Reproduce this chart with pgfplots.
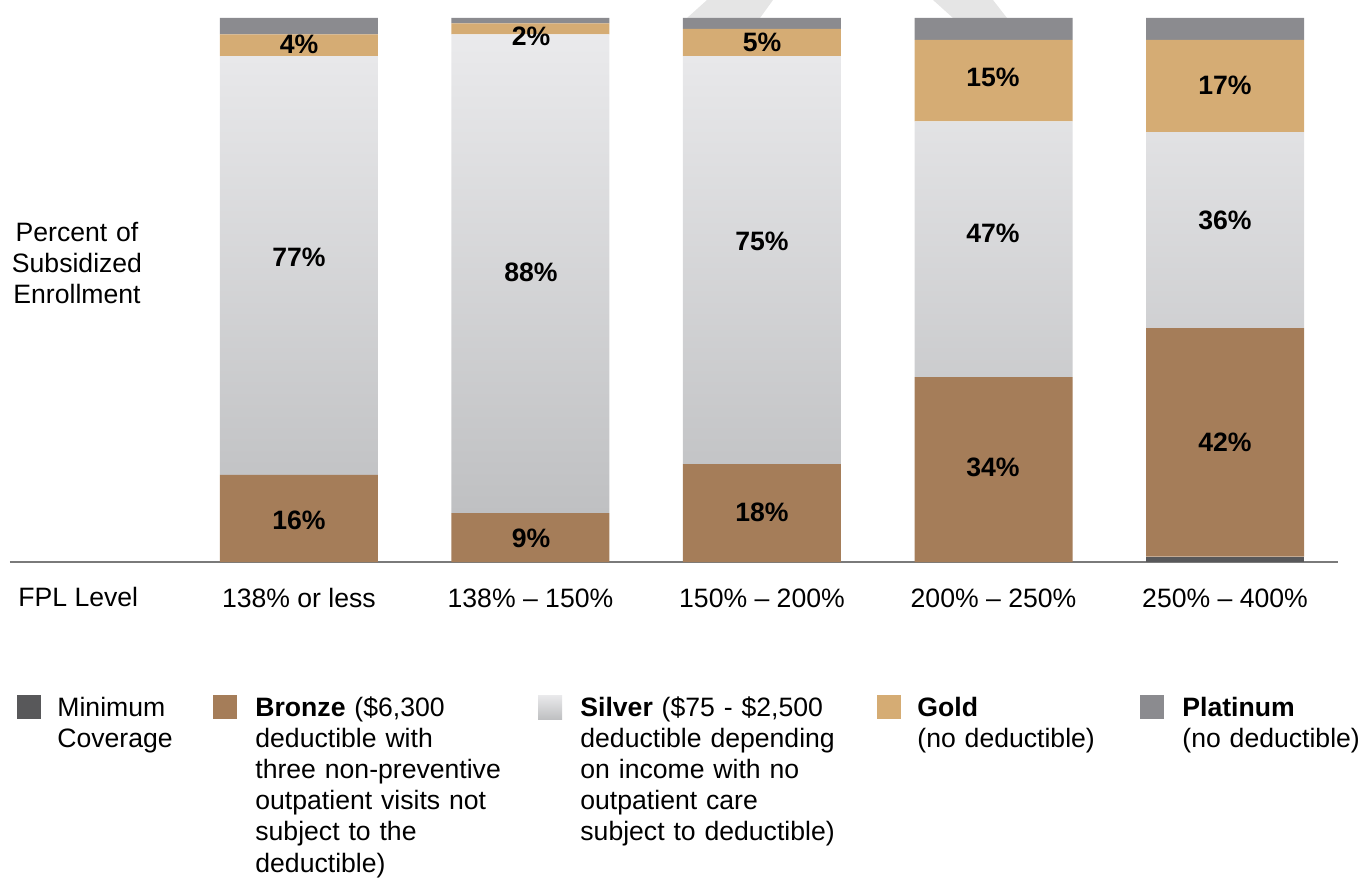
\documentclass[border=0pt]{standalone}
\usepackage{pgfplots}
\pgfplotsset{compat=1.18}
\usepackage{fontspec}
\setmainfont{Liberation Sans}
\definecolor{mincov}{HTML}{58585A}
\definecolor{bronze}{HTML}{A57D59}
\definecolor{silvertop}{HTML}{EAEAEC}
\definecolor{silverbot}{HTML}{BFC0C2}
\definecolor{gold}{HTML}{D5AC74}
\definecolor{platinum}{HTML}{8B8B8F}
\definecolor{axisgray}{HTML}{7A7A7A}
\newcommand{\chartfont}{\fontsize{13.3}{15.6}\selectfont}
\tikzset{
  barlab/.style={font=\chartfont\bfseries, inner sep=0pt, text=black},
  legtext/.style={font=\chartfont, inner sep=0pt, anchor=base west, text width=240pt, align=left},
}
\begin{document}
\begin{tikzpicture}[x=0.5pt,y=0.5pt]
\path[use as bounding box] (0,0) rectangle (1358,878);
% faint watermark at the top
\fill[black!10] (707,878) -- (773,878) -- (760,860) -- (687,860) -- cycle;
\fill[black!10] (933,878) -- (993,878) -- (1007,860) -- (953,860) -- cycle;
\begin{axis}[
  at={(5pt,158pt)}, anchor=south west,
  scale only axis, width=664pt, height=272pt,
  xmin=-1.248, xmax=4.488, ymin=0, ymax=100,
  ybar stacked, bar width=79pt,
  axis x line=bottom, axis y line=none,
  x axis line style={-, draw=axisgray, line width=1pt},
  xtick={0,1,2,3,4},
  xticklabels={138\% or less, 138\% – 150\%, 150\% – 200\%, 200\% – 250\%, 250\% – 400\%},
  major tick length=0pt, ytick=\empty,
  xticklabel style={font=\chartfont, text height=10pt, text depth=3pt, inner sep=0pt, yshift=-12.5pt},
  clip=false,
]
\addplot[fill=mincov, draw=none] coordinates {(0,0) (1,0) (2,0) (3,0) (4,1)};
\addplot[fill=bronze, draw=none] coordinates {(0,16) (1,9) (2,18) (3,34) (4,42)};
\addplot[draw=none, top color=silvertop, bottom color=silverbot] coordinates {(0,77) (1,88) (2,75) (3,47) (4,36)};
\addplot[fill=gold, draw=none] coordinates {(0,4) (1,2) (2,5) (3,15) (4,17)};
\addplot[fill=platinum, draw=none] coordinates {(0,3) (1,1) (2,2) (3,4) (4,4)};
\end{axis}
% value labels (centres of the bars at x = 299, 531, 762, 993, 1225 px)
\node[barlab] at (299,{878-44}) {4\%};
\node[barlab] at (299,{878-257}) {77\%};
\node[barlab] at (299,{878-520}) {16\%};
\node[barlab] at (531,{878-36}) {2\%};
\node[barlab] at (531,{878-272}) {88\%};
\node[barlab] at (531,{878-538}) {9\%};
\node[barlab] at (762,{878-42}) {5\%};
\node[barlab] at (762,{878-241}) {75\%};
\node[barlab] at (762,{878-512}) {18\%};
\node[barlab] at (993,{878-77}) {15\%};
\node[barlab] at (993,{878-233}) {47\%};
\node[barlab] at (993,{878-467}) {34\%};
\node[barlab] at (1225,{878-85}) {17\%};
\node[barlab] at (1225,{878-220}) {36\%};
\node[barlab] at (1225,{878-442}) {42\%};
% left-hand texts
\node[font=\fontsize{13.3}{15.4}\selectfont, text width=80pt, align=center, inner sep=0pt, anchor=base] at (77,{878-242}) {Percent of\\Subsidized\\Enrollment};
\node[font=\chartfont, inner sep=0pt, anchor=base west] at (18,{878-607}) {FPL Level};
% legend
\fill[mincov] (17,{878-719}) rectangle (41,{878-695});
\node[legtext] at (57,{878-716}) {Minimum\\Coverage};
\fill[bronze] (213,{878-719}) rectangle (237,{878-695});
\node[legtext] at (255,{878-716}) {\textbf{Bronze} (\$6,300\\deductible with\\three non-preventive\\outpatient visits not\\subject to the\\deductible)};
\shade[top color=silvertop, bottom color=silverbot] (538,{878-719}) rectangle (562,{878-695});
\node[legtext] at (580,{878-716}) {\textbf{Silver} (\$75 - \$2,500\\deductible depending\\on income with no\\outpatient care\\subject to deductible)};
\fill[gold] (877,{878-719}) rectangle (901,{878-695});
\node[legtext] at (917,{878-716}) {\textbf{Gold}\\(no deductible)};
\fill[platinum] (1140,{878-719}) rectangle (1164,{878-695});
\node[legtext] at (1182,{878-716}) {\textbf{Platinum}\\(no deductible)};
\end{tikzpicture}
\end{document}
